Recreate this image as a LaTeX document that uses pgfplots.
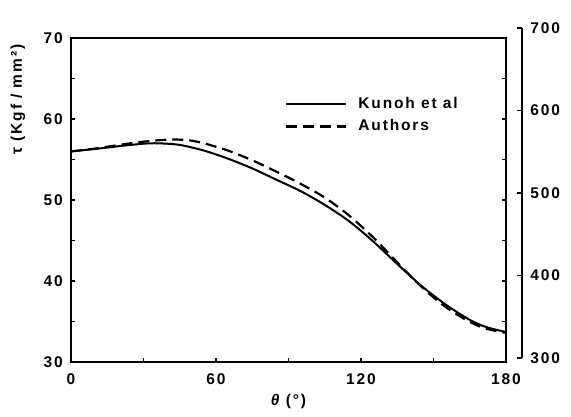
\documentclass[border=0pt]{standalone}
\usepackage{fontspec}
\setmainfont{Liberation Sans}[LetterSpace=12]
\usepackage{pgfplots}
\pgfplotsset{compat=1.18}
\begin{document}
\bfseries\fontsize{15.5bp}{18bp}\selectfont
\begin{tikzpicture}
\useasboundingbox (-71bp,-55bp) rectangle (500bp,362bp);
\begin{axis}[
  at={(0bp,0bp)}, anchor=south west,
  scale only axis, width=435bp, height=324bp,
  xmin=0, xmax=180, ymin=30, ymax=70,
  xtick={0,60,120,180}, minor xtick={30,90,150},
  ytick={30,40,...,70}, minor ytick={35,45,55,65},
  xtick pos=bottom,
  tick align=inside,
  major tick length=4bp, minor tick length=4bp,
  axis line style={line width=1.8bp},
  every tick/.style={black, line width=1.2bp},
  every minor tick/.style={black, line width=1.2bp},
  /pgf/number format/assume math mode=true,
  xticklabel style={yshift=-6bp},
  yticklabel style={xshift=-3bp},
  xlabel={{\itshape θ} (°)},
  xlabel style={at={(axis description cs:0.5,-0.123)}, anchor=center},
  ylabel={τ (Kgf / mm²)},
  ylabel style={at={(axis description cs:-0.122,0.81)}, anchor=center},
  legend style={draw=none, fill=none, at={(axis cs:88.55,63.09)}, anchor=north west,
    inner sep=0pt, row sep=3bp, nodes={inner sep=3bp},
    /tikz/every odd column/.append style={column sep=8bp}},
  legend cell align=left,
  legend image code/.code={\draw[#1] (0bp,0bp) -- (60bp,0bp);},
]
\addplot[black, line width=2bp, smooth] coordinates {
(0,56.0) (10,56.3) (20,56.65) (30,56.95) (36,57.0) (45,56.8) (55,56.1) (65,55.1)
(75,53.9) (85,52.5) (95,51.1) (105,49.4) (115,47.4) (125,44.9) (135,42.1)
(145,39.4) (155,37.1) (165,35.2) (172,34.3) (180,33.7)};
\addlegendentry{Kunoh et al}
\addplot[black, line width=2.2bp, smooth, dash pattern=on 11bp off 6bp] coordinates {
(0,56.0) (10,56.35) (20,56.8) (30,57.2) (40,57.45) (48,57.4) (55,57.0) (65,56.1)
(75,54.9) (85,53.5) (95,52.0) (105,50.3) (115,48.1) (125,45.4) (135,42.3)
(145,39.3) (155,36.8) (165,34.95) (172,34.1) (180,33.6)};
\addlegendentry{Authors}
\end{axis}
\begin{axis}[
  at={(0bp,4bp)}, anchor=south west,
  scale only axis, width=451bp, height=330bp,
  xmin=0, xmax=1, ymin=300, ymax=700,
  axis x line=none, axis y line=right,
  axis line style={-, line width=1.5bp},
  ytick={300,400,...,700},
  tick align=inside,
  major tick length=5bp,
  every tick/.style={black, line width=1.2bp},
  /pgf/number format/assume math mode=true,
  yticklabel style={xshift=3bp},
]
\end{axis}
\end{tikzpicture}
\end{document}
